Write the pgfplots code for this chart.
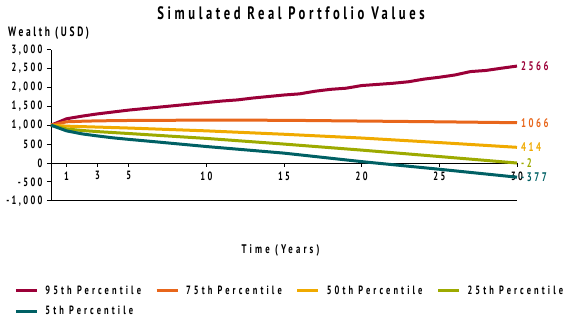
\documentclass[border=0pt]{standalone}
\usepackage{fontspec}
\setmainfont{PT Sans}[FakeStretch=0.7, LetterSpace=20]
\usepackage{pgfplots}
\pgfplotsset{compat=1.18}
\definecolor{c95}{RGB}{155,0,56}
\definecolor{c75}{RGB}{232,102,27}
\definecolor{c50}{RGB}{240,170,0}
\definecolor{c25}{RGB}{157,170,0}
\definecolor{c5}{RGB}{0,96,100}
\pgfplotstableread{
t v
0 1000
1 1170
2 1240
3 1300
4 1350
5 1400
6 1440
7 1480
8 1520
9 1560
10 1600
11 1640
12 1670
13 1720
14 1760
15 1800
16 1830
17 1900
18 1950
19 1980
20 2050
21 2080
22 2110
23 2150
24 2220
25 2270
26 2330
27 2420
28 2450
29 2510
30 2566
}\pNinetyFive
\pgfplotstableread{
t v
0 1000
1 1090
2 1105
3 1115
5 1125
10 1135
15 1130
20 1110
25 1090
30 1066
}\pSeventyFive
\pgfplotstableread{
t v
0 1000
1 975
3 950
5 925
10 850
15 760
20 660
25 540
30 414
}\pFifty
\pgfplotstableread{
t v
0 1000
1 900
2 860
3 830
5 780
10 650
15 500
20 340
25 170
30 -2
}\pTwentyFive
\pgfplotstableread{
t v
0 1000
1 850
2 770
3 715
4 665
5 625
7 550
10 435
13 330
15 260
20 35
25 -167
30 -377
}\pFive
\begin{document}
\begin{tikzpicture}
\begin{axis}[
  scale only axis, width=466pt, height=151pt,
  xmin=0, xmax=30, ymin=-1000, ymax=3000,
  axis x line=middle, axis y line=left,
  axis line style={-, black, line width=0.8pt},
  xtick={1,3,5,10,15,20,25,30},
  ytick={-1000,-500,0,500,1000,1500,2000,2500,3000},
  tick align=outside,
  major tick length=4pt,
  tick style={black, line width=0.8pt},
  /pgf/number format/assume math mode=true,
  /pgf/number format/1000 sep={,},
  tick label style={font=\fontsize{12}{14}\selectfont\bfseries},
  yticklabel style={xshift=-1pt},
  xticklabel style={yshift=-1pt},
  legend columns=4,
  legend cell align=left,
  legend style={draw=none, fill=none, font=\fontsize{12}{14}\selectfont\bfseries\addfontfeatures{LetterSpace=26},
    at={(axis description cs:-0.079,-0.55)}, anchor=north west,
    /tikz/every odd column/.append style={column sep=5pt},
    /tikz/every even column/.append style={column sep=12pt},
    row sep=6pt, inner sep=0pt},
  legend image code/.code={\draw[#1, line width=3pt] (0pt,0pt) -- (21pt,0pt);},
  every axis plot/.append style={line width=3pt, line join=round},
  clip=false,
]
\addplot[c95, no marks] table[x=t,y=v] {\pNinetyFive};
\addlegendentry{95th Percentile}
\addplot[c75, no marks] table[x=t,y=v] {\pSeventyFive};
\addlegendentry{75th Percentile}
\addplot[c50, no marks] table[x=t,y=v] {\pFifty};
\addlegendentry{50th Percentile}
\addplot[c25, no marks] table[x=t,y=v] {\pTwentyFive};
\addlegendentry{25th Percentile}
\addplot[c5, no marks] table[x=t,y=v] {\pFive};
\addlegendentry{5th Percentile}
\draw[black, line width=0.8pt] (axis cs:0,-1000) -- (axis cs:30,-1000);
\begin{scope}[every node/.style={font=\fontsize{12.5}{14}\selectfont\bfseries, anchor=west, inner sep=0pt, xshift=4pt}]
\node[text=c95] at (axis cs:30,2566) {2566};
\node[text=c75] at (axis cs:30,1066) {1066};
\node[text=c50] at (axis cs:30,414) {414};
\node[text=c25] at (axis cs:30,-2) {-2};
\node[text=c5] at (axis cs:30,-377) {-377};
\end{scope}
\end{axis}
\node[font=\fontsize{18}{20}\selectfont\bfseries, anchor=center] at (240pt,187.5pt) {Simulated Real Portfolio Values};
\node[font=\fontsize{13.5}{15}\selectfont\bfseries, anchor=west, inner sep=0pt] at (-43pt,167.7pt) {Wealth (USD)};
\node[font=\fontsize{12.5}{14}\selectfont\bfseries\addfontfeatures{LetterSpace=25}, anchor=center, inner sep=0pt] at (229.5pt,-49.3pt) {Time (Years)};
\pgfresetboundingbox
\path[use as bounding box] (-51pt,-127.3pt) rectangle (520pt,200.7pt);
\end{tikzpicture}
\end{document}
